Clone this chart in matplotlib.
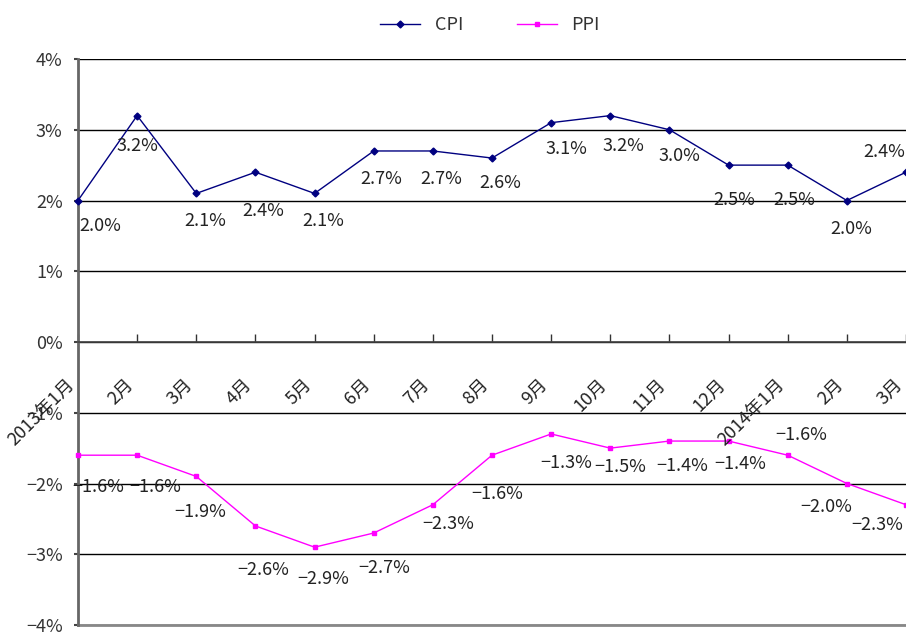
import matplotlib
matplotlib.use("Agg")
import matplotlib.pyplot as plt
from matplotlib.ticker import FuncFormatter, MultipleLocator

plt.rcParams['font.family'] = ['Noto Sans CJK SC', 'DejaVu Sans']

# ---------- data ----------
months = ["2013年1月", "2月", "3月", "4月", "5月", "6月", "7月", "8月",
          "9月", "10月", "11月", "12月", "2014年1月", "2月", "3月"]
cpi = [2.0, 3.2, 2.1, 2.4, 2.1, 2.7, 2.7, 2.6, 3.1, 3.2, 3.0, 2.5, 2.5, 2.0, 2.4]
ppi = [-1.6, -1.6, -1.9, -2.6, -2.9, -2.7, -2.3, -1.6, -1.3, -1.5, -1.4, -1.4, -1.6, -2.0, -2.3]

# label offsets in pixels (dx, dy) relative to each point
cpi_off = [(22, -25), (0, -30), (9, -28), (8, -39), (9, -28), (8, -28), (8, -28), (8, -25),
           (15, -26), (13, -30), (10, -26), (6, -35), (7, -35), (4, -28), (-22, 20)]
ppi_off = [(20, -32), (18, -32), (4, -36), (8, -44), (9, -32), (11, -35), (15, -19), (5, -39),
           (15, -29), (10, -19), (13, -25), (12, -23), (14, 20), (-21, -24), (-29, -20)]

NAVY = "#000080"
MAG = "#FF00FF"


def pct(v, digits):
    s = f"{abs(v):.{digits}f}%"
    return ("\u2212" + s) if v < 0 else s


fig = plt.figure(figsize=(9.06, 6.42), dpi=100)
ax = fig.add_axes([78 / 906, 1 - 625 / 642, 828 / 906, 566 / 642])

x = list(range(len(months)))
ax.plot(x, cpi, color=NAVY, lw=1.0, marker="D", ms=3.5, label="CPI", clip_on=False, zorder=3)
ax.plot(x, ppi, color=MAG, lw=1.0, marker="s", ms=3.5, label="PPI", clip_on=False, zorder=3)

ax.set_xlim(0, len(months) - 1)
ax.set_ylim(-4, 4)
ax.yaxis.set_major_locator(MultipleLocator(1))
ax.yaxis.set_major_formatter(FuncFormatter(lambda v, _p: pct(round(v), 0)))
ax.grid(True, axis="y", color="black", lw=1.0)
ax.set_axisbelow(True)

for s in ["top", "right"]:
    ax.spines[s].set_visible(False)
ax.spines["left"].set_color("#666666")
ax.spines["left"].set_linewidth(2)
ax.spines["bottom"].set_position(("data", 0))
ax.spines["bottom"].set_color("#444444")
ax.spines["bottom"].set_linewidth(1.2)

ax.tick_params(axis="y", length=3, width=1.5, color="#444444", labelsize=13, pad=8,
               labelcolor="#333333")
ax.set_xticks(x)
ax.set_xticklabels([])
ax.tick_params(axis="x", direction="in", length=6, width=1, color="#333333")
# bottom border line at -4%
ax.axhline(-4, color="#888888", lw=2, clip_on=False)

for i, m in enumerate(months):
    ax.annotate(m, xy=(i, 0), xycoords="data", xytext=(-6, -40), textcoords="offset pixels",
                rotation=45, ha="right", va="center", rotation_mode="anchor",
                fontsize=13, color="#222222", annotation_clip=False)

for i, v in enumerate(cpi):
    dx, dy = cpi_off[i]
    ax.annotate(pct(v, 1), xy=(i, v), xytext=(dx, dy), textcoords="offset pixels",
                ha="center", va="center", fontsize=13, color="#222222", annotation_clip=False)
for i, v in enumerate(ppi):
    dx, dy = ppi_off[i]
    ax.annotate(pct(v, 1), xy=(i, v), xytext=(dx, dy), textcoords="offset pixels",
                ha="center", va="center", fontsize=13, color="#222222", annotation_clip=False)

fig.legend(loc="upper center", bbox_to_anchor=(490 / 906, 1.0), ncol=2, frameon=False,
           fontsize=13, handlelength=2.2, columnspacing=3, labelcolor="#333333")

fig.savefig("out.png", dpi=100)
